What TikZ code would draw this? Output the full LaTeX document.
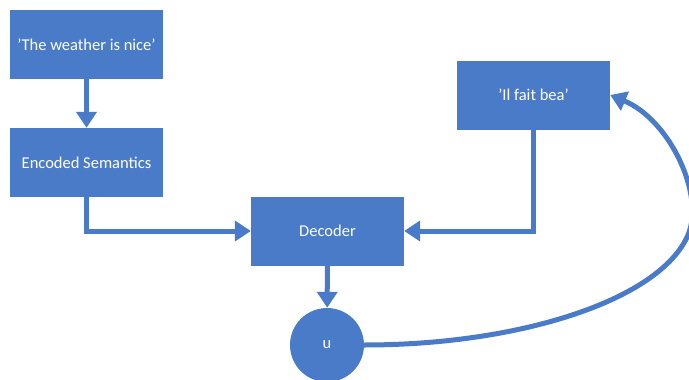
\documentclass[tikz,border=0pt]{standalone}
\usepackage{fontspec}
\setmainfont{Carlito}
\usetikzlibrary{arrows.meta,calc,positioning}
\definecolor{FlowBlue}{HTML}{4A7BC8}
\tikzset{
  every node/.style={font=\fontsize{16.5}{19}\selectfont, text=white},
  block/.style={fill=FlowBlue, minimum width=153pt, minimum height=69pt, inner sep=0pt},
  token/.style={circle, fill=FlowBlue, minimum size=74pt, inner sep=0pt},
  feed/.style={-{Triangle[length=16pt,width=20pt]}, draw=FlowBlue, line width=5pt},
}

\begin{document}
\begin{tikzpicture}[x=1pt,y=-1pt]
  \useasboundingbox (0,0) rectangle (689,380);
  % Encoder side
  \node[block] (src) at (86.5,44.5) {'The weather is nice'};
  \node[block] (sem) at (86.5,162.5) {Encoded Semantics};
  % Decoder and its output
  \node[block] (dec) at (327.5,231) {Decoder};
  \node[block] (out) at (533.5,95) {'Il fait bea'};
  \node[token] (u) at (327,345) {u};
  \draw[feed] (src) -- (sem);
  \draw[feed] (sem.south) |- (dec.west);
  \draw[feed] (out.south) |- (dec.east);
  \draw[feed] (dec) -- (u);
  % Feedback of the emitted token
  \coordinate (bend) at (688,235);
  \draw[feed] (u.east) .. controls (520,345) and (660,300) .. (bend)
    .. controls (705,195) and (670,120) .. (out.east);
\end{tikzpicture}
\end{document}
